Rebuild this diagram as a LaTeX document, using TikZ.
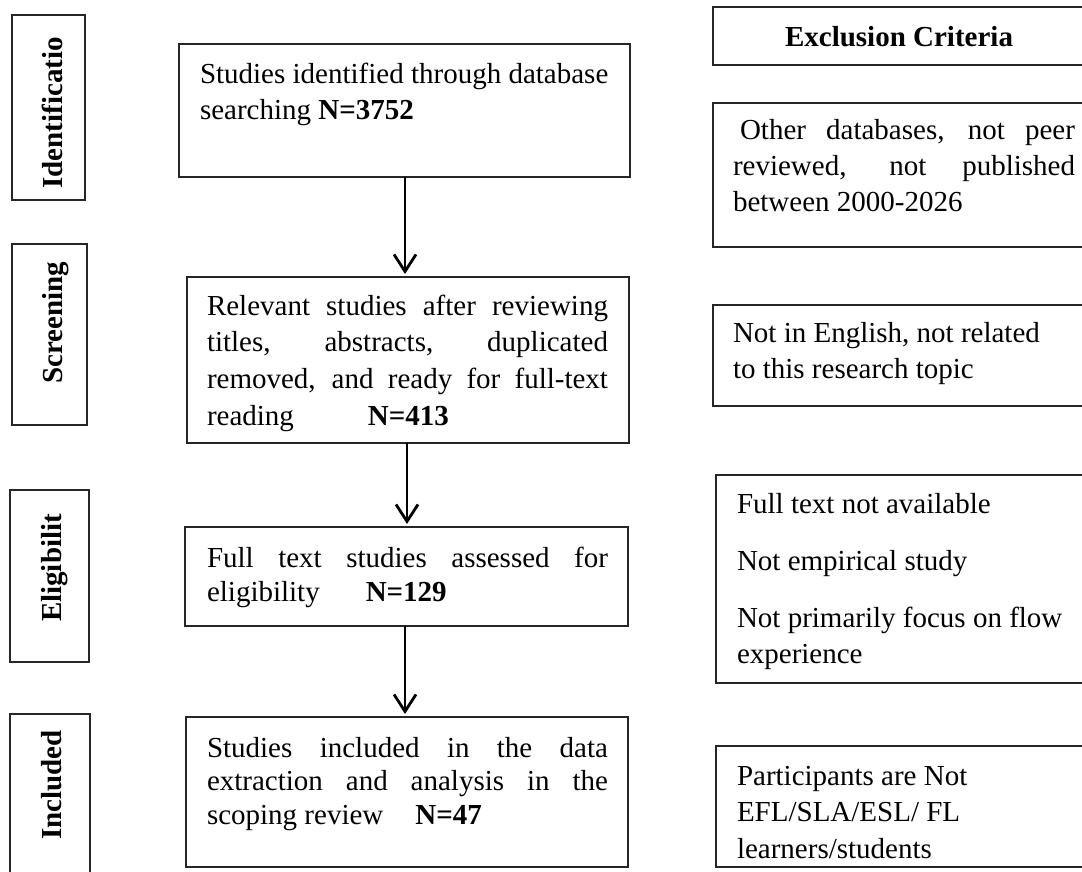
\documentclass[tikz,border=0pt]{standalone}
\usepackage{fontspec}
\setmainfont{Liberation Serif}
\usetikzlibrary{arrows.meta}
\tolerance=10000
\hbadness=10000
\hyphenpenalty=10000
\tikzset{
  box/.style={draw=black!85, line width=1.5pt, anchor=north west, inner sep=0pt, outer sep=0pt},
  txt/.style={anchor=base west, inner sep=0pt, outer sep=0pt, font=\fontsize{29}{36.7}\selectfont},
  stage/.style={rotate=90, anchor=base, inner sep=0pt, font=\fontsize{29}{36}\selectfont\bfseries},
  arr/.style={line width=2.8pt, -{Straight Barb[length=17pt,width=22pt]}, shorten >=3pt},
}
\begin{document}
\begin{tikzpicture}[x=1pt,y=-1pt]
\useasboundingbox (0,0) rectangle (1082,872);
\clip (0,0) rectangle (1082,872);

% stage label boxes
\node[box, minimum width=73pt, minimum height=185pt] (l1) at (12,15) {};
\node[box, minimum width=75pt, minimum height=181pt] (l2) at (12,244) {};
\node[box, minimum width=79pt, minimum height=172pt] (l3) at (10,490) {};
\node[box, minimum width=80pt, minimum height=190pt] (l4) at (10,714) {};
\node[stage] (s1) at (62,113) {Identificatio};
\node[stage] (s2) at (62,323) {Screening};
\node[stage] (s3) at (61,568) {Eligibilit};
\node[stage] (s4) at (61,785) {Included};

% main flow boxes
\node[box, minimum width=451pt, minimum height=133pt] (b1) at (179,44) {};
\node[box, minimum width=442pt, minimum height=166pt] (b2) at (187,277) {};
\node[box, minimum width=443pt, minimum height=99pt] (b3) at (185,527) {};
\node[box, minimum width=442pt, minimum height=150pt] (b4) at (186,717) {};

\node[txt, font=\fontsize{29}{35.5}\selectfont] (t1) at (200,84) {\parbox[t]{420pt}{\raggedright Studies identified through database\\searching \textbf{N=3752}}};
\node[txt] (t2) at (207,315) {\parbox[t]{401pt}{Relevant studies after reviewing\linebreak titles, abstracts, duplicated\linebreak removed, and ready for full-text\linebreak reading\hspace{74pt}\textbf{N=413}}};
\node[txt, font=\fontsize{29}{34}\selectfont] (t3) at (207,567) {\parbox[t]{401pt}{Full text studies assessed for\linebreak eligibility\hspace{46pt}\textbf{N=129}}};
\node[txt, font=\fontsize{29}{33.5}\selectfont] (t4) at (207,757) {\parbox[t]{401pt}{Studies included in the data\linebreak extraction and analysis in the\linebreak scoping review\hspace{32pt}\textbf{N=47}}};

% arrows
\coordinate (ax1) at (405,0);
\coordinate (ax2) at (407,0);
\draw[arr] (b1.south -| ax1) -- (b2.north -| ax1);
\draw[arr] (b2.south -| ax2) -- (b3.north -| ax2);
\draw[arr] (b3.south -| ax1) -- (b4.north -| ax1);

% exclusion criteria
\node[box, minimum width=390pt, minimum height=58pt] (e0) at (713,7) {};
\node[txt, anchor=base, font=\fontsize{29}{36}\selectfont\bfseries] (te) at (899,47) {Exclusion Criteria};
\node[box, minimum width=390pt, minimum height=144pt] (r1) at (713,103) {};
\node[box, minimum width=390pt, minimum height=101pt] (r2) at (713,305) {};
\node[box, minimum width=390pt, minimum height=208pt] (r3) at (716,475) {};
\node[box, minimum width=390pt, minimum height=121pt] (r4) at (716,746) {};

\node[txt, font=\fontsize{29}{36}\selectfont] (u1) at (733,139.5) {\parbox[t]{342pt}{\hspace*{7pt}Other databases, not peer\linebreak reviewed, not published\linebreak between 2000-2026}};
\node[txt] (u2) at (733,342) {\parbox[t]{340pt}{\raggedright Not in English, not related\\to this research topic}};
\node[txt] (u3) at (737,513) {\parbox[t]{345pt}{\raggedright Full text not available\\[20.3pt]Not empirical study\\[20.3pt]Not primarily focus on flow\\experience}};
\node[txt] (u4) at (737,785) {\parbox[t]{345pt}{\raggedright Participants are Not\\EFL/SLA/ESL/ FL\\learners/students}};
\end{tikzpicture}
\end{document}
